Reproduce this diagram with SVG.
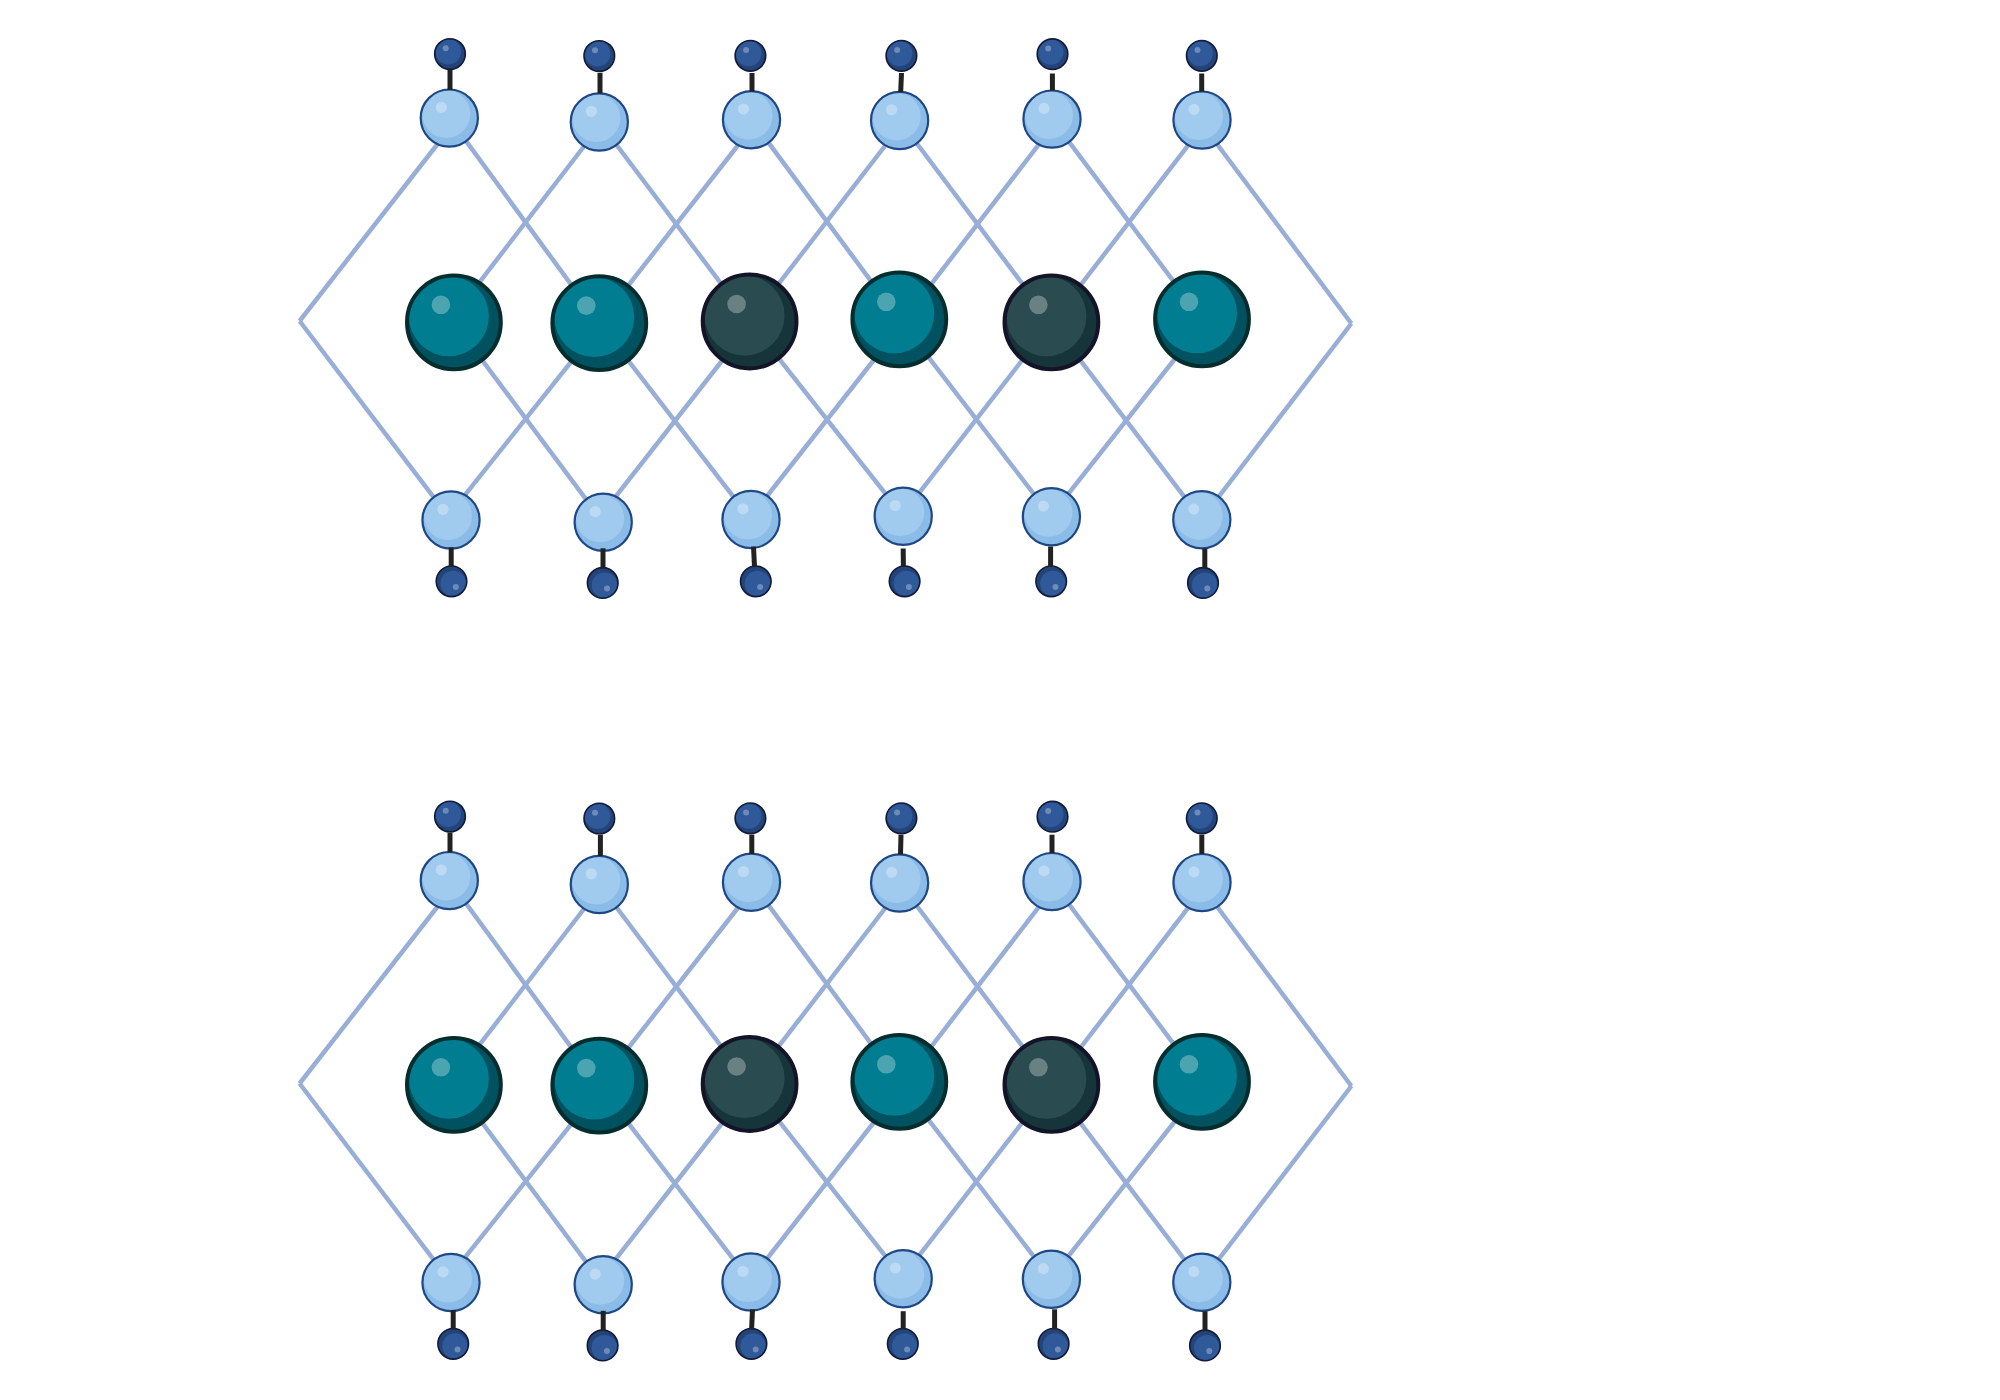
<svg xmlns="http://www.w3.org/2000/svg" width="2000" height="1400" viewBox="0 0 2000 1400">
<style>
.e{stroke:#98aed6;stroke-width:4.500;fill:none}
.b{stroke:#222;stroke-width:5;fill:none}
.tO{fill:#005260}.tI{fill:#007d90}.tS{fill:none;stroke:#062d2d;stroke-width:4}
.dO{fill:#16353a}.dI{fill:#2a4b50}.dS{fill:none;stroke:#141428;stroke-width:4}
.mO{fill:#8bbce8}.mI{fill:#a0caee}.mS{fill:none;stroke:#1f4784;stroke-width:2.200}
.sO{fill:#224478}.sI{fill:#30599a}.sS{fill:none;stroke:#121a38;stroke-width:1.600}
.h{fill:#fff;fill-opacity:.3}
</style>
<defs>
<g id="teal"><circle class="tO" r="46.900"/><circle class="tI" cx="-5" cy="-6" r="40"/><circle class="h" cx="-13" cy="-17.500" r="9.300"/><circle class="tS" r="46.900"/></g>
<g id="dark"><circle class="dO" r="46.900"/><circle class="dI" cx="-5" cy="-6" r="40"/><circle class="h" cx="-13" cy="-17.500" r="9.300"/><circle class="dS" r="46.900"/></g>
<g id="med"><circle class="mO" r="28.600"/><circle class="mI" cx="-3" cy="-4" r="24"/><circle class="h" cx="-8" cy="-10.700" r="5.600"/><circle class="mS" r="28.600"/></g>
<g id="smallU"><circle class="sO" r="15.300"/><circle class="sI" cx="-1.700" cy="-2.200" r="12.700"/><circle class="h" cx="-4.300" cy="-5.700" r="3"/><circle class="sS" r="15.300"/></g>
<g id="smallD"><circle class="sO" r="15.300"/><circle class="sI" cx="1.700" cy="2.200" r="12.700"/><circle class="h" cx="4.300" cy="5.700" r="3"/><circle class="sS" r="15.300"/></g>
</defs>
<g id="connectors-edges">
<g id="edges-1">
<line class="e" x1="299.600" y1="321" x2="449.300" y2="129"/>
<line class="e" x1="299.600" y1="321" x2="451" y2="520"/>
<line class="e" x1="449.300" y1="118.100" x2="599.300" y2="323.100"/>
<line class="e" x1="599.300" y1="126.500" x2="453.900" y2="315.500"/>
<line class="e" x1="599.300" y1="122" x2="749.600" y2="321.500"/>
<line class="e" x1="751.500" y1="128" x2="599.300" y2="322.500"/>
<line class="e" x1="751.500" y1="119.700" x2="899.300" y2="319.300"/>
<line class="e" x1="899.600" y1="127" x2="749.600" y2="321.500"/>
<line class="e" x1="899.600" y1="120.500" x2="1051.400" y2="322.300"/>
<line class="e" x1="1052" y1="127.400" x2="899.300" y2="325.600"/>
<line class="e" x1="1052" y1="119.100" x2="1202" y2="319.300"/>
<line class="e" x1="1202" y1="127.300" x2="1051.400" y2="323"/>
<line class="e" x1="1202" y1="124" x2="1351.400" y2="323.500"/>
<line class="e" x1="1351.400" y1="323.500" x2="1202" y2="518.500"/>
<line class="e" x1="453.900" y1="322.300" x2="603.200" y2="522.300"/>
<line class="e" x1="599.300" y1="326.500" x2="451" y2="512.500"/>
<line class="e" x1="599.300" y1="323.100" x2="751" y2="519.500"/>
<line class="e" x1="749.600" y1="325.500" x2="603.200" y2="512.500"/>
<line class="e" x1="749.600" y1="321.500" x2="903.200" y2="516.200"/>
<line class="e" x1="899.300" y1="327.500" x2="751" y2="516.500"/>
<line class="e" x1="899.300" y1="319.300" x2="1051.400" y2="516.800"/>
<line class="e" x1="1051.400" y1="322.500" x2="903.200" y2="513.500"/>
<line class="e" x1="1051.400" y1="322.300" x2="1201.800" y2="519.800"/>
<line class="e" x1="1202" y1="324.500" x2="1051.400" y2="515.200"/>
</g>
<g id="edges-2">
<line class="e" x1="299.600" y1="1083.500" x2="449.300" y2="891.500"/>
<line class="e" x1="299.600" y1="1083.500" x2="451" y2="1282.500"/>
<line class="e" x1="449.300" y1="880.600" x2="599.300" y2="1085.600"/>
<line class="e" x1="599.300" y1="889" x2="453.900" y2="1078"/>
<line class="e" x1="599.300" y1="884.500" x2="749.600" y2="1084"/>
<line class="e" x1="751.500" y1="890.500" x2="599.300" y2="1085"/>
<line class="e" x1="751.500" y1="882.200" x2="899.300" y2="1081.800"/>
<line class="e" x1="899.600" y1="889.500" x2="749.600" y2="1084"/>
<line class="e" x1="899.600" y1="883" x2="1051.400" y2="1084.800"/>
<line class="e" x1="1052" y1="889.900" x2="899.300" y2="1088.100"/>
<line class="e" x1="1052" y1="881.600" x2="1202" y2="1081.800"/>
<line class="e" x1="1202" y1="889.800" x2="1051.400" y2="1085.500"/>
<line class="e" x1="1202" y1="886.500" x2="1351.400" y2="1086"/>
<line class="e" x1="1351.400" y1="1086" x2="1202" y2="1281"/>
<line class="e" x1="453.900" y1="1084.800" x2="603.200" y2="1284.800"/>
<line class="e" x1="599.300" y1="1089" x2="451" y2="1275"/>
<line class="e" x1="599.300" y1="1085.600" x2="751" y2="1282"/>
<line class="e" x1="749.600" y1="1088" x2="603.200" y2="1275"/>
<line class="e" x1="749.600" y1="1084" x2="903.200" y2="1278.700"/>
<line class="e" x1="899.300" y1="1090" x2="751" y2="1279"/>
<line class="e" x1="899.300" y1="1081.800" x2="1051.400" y2="1279.300"/>
<line class="e" x1="1051.400" y1="1085" x2="903.200" y2="1276"/>
<line class="e" x1="1051.400" y1="1084.800" x2="1201.800" y2="1282.300"/>
<line class="e" x1="1202" y1="1087" x2="1051.400" y2="1277.700"/>
</g>
</g>
<g id="n1-ts1" transform="translate(450 54)"><use href="#smallU"/></g>
<g id="n1-ts2" transform="translate(599.300 56)"><use href="#smallU"/></g>
<g id="n1-ts3" transform="translate(750.400 55.800)"><use href="#smallU"/></g>
<g id="n1-ts4" transform="translate(901.400 55.800)"><use href="#smallU"/></g>
<g id="n1-ts5" transform="translate(1052.500 54.200)"><use href="#smallU"/></g>
<g id="n1-ts6" transform="translate(1201.800 55.800)"><use href="#smallU"/></g>
<g id="n1-tm1" transform="translate(449.300 118.100)"><use href="#med"/></g>
<g id="n1-tm2" transform="translate(599.300 122)"><use href="#med"/></g>
<g id="n1-tm3" transform="translate(751.500 119.700)"><use href="#med"/></g>
<g id="n1-tm4" transform="translate(899.600 120.500)"><use href="#med"/></g>
<g id="n1-tm5" transform="translate(1052 119.100)"><use href="#med"/></g>
<g id="n1-tm6" transform="translate(1202 120.100)"><use href="#med"/></g>
<g id="n1-g1" transform="translate(453.900 322.300)"><use href="#teal"/></g>
<g id="n1-g2" transform="translate(599.300 323.100)"><use href="#teal"/></g>
<g id="n1-g3" transform="translate(749.600 321.500)"><use href="#dark"/></g>
<g id="n1-g4" transform="translate(899.300 319.300)"><use href="#teal"/></g>
<g id="n1-g5" transform="translate(1051.400 322.300)"><use href="#dark"/></g>
<g id="n1-g6" transform="translate(1202 319.300)"><use href="#teal"/></g>
<g id="n1-bm1" transform="translate(451 520)"><use href="#med"/></g>
<g id="n1-bm2" transform="translate(603.200 522.300)"><use href="#med"/></g>
<g id="n1-bm3" transform="translate(751 519.500)"><use href="#med"/></g>
<g id="n1-bm4" transform="translate(903.200 516.200)"><use href="#med"/></g>
<g id="n1-bm5" transform="translate(1051.400 516.800)"><use href="#med"/></g>
<g id="n1-bm6" transform="translate(1201.800 519.800)"><use href="#med"/></g>
<g id="n1-bs1" transform="translate(451.500 581.300)"><use href="#smallD"/></g>
<g id="n1-bs2" transform="translate(602.700 582.900)"><use href="#smallD"/></g>
<g id="n1-bs3" transform="translate(755.800 581.300)"><use href="#smallD"/></g>
<g id="n1-bs4" transform="translate(904.600 581.300)"><use href="#smallD"/></g>
<g id="n1-bs5" transform="translate(1051.200 581.300)"><use href="#smallD"/></g>
<g id="n1-bs6" transform="translate(1203 582.900)"><use href="#smallD"/></g>
<g id="n2-ts1" transform="translate(450 816.500)"><use href="#smallU"/></g>
<g id="n2-ts2" transform="translate(599.300 818.500)"><use href="#smallU"/></g>
<g id="n2-ts3" transform="translate(750.400 818.300)"><use href="#smallU"/></g>
<g id="n2-ts4" transform="translate(901.400 818.300)"><use href="#smallU"/></g>
<g id="n2-ts5" transform="translate(1052.500 816.700)"><use href="#smallU"/></g>
<g id="n2-ts6" transform="translate(1201.800 818.300)"><use href="#smallU"/></g>
<g id="n2-tm1" transform="translate(449.300 880.600)"><use href="#med"/></g>
<g id="n2-tm2" transform="translate(599.300 884.500)"><use href="#med"/></g>
<g id="n2-tm3" transform="translate(751.500 882.200)"><use href="#med"/></g>
<g id="n2-tm4" transform="translate(899.600 883)"><use href="#med"/></g>
<g id="n2-tm5" transform="translate(1052 881.600)"><use href="#med"/></g>
<g id="n2-tm6" transform="translate(1202 882.600)"><use href="#med"/></g>
<g id="n2-g1" transform="translate(453.900 1084.800)"><use href="#teal"/></g>
<g id="n2-g2" transform="translate(599.300 1085.600)"><use href="#teal"/></g>
<g id="n2-g3" transform="translate(749.600 1084)"><use href="#dark"/></g>
<g id="n2-g4" transform="translate(899.300 1081.800)"><use href="#teal"/></g>
<g id="n2-g5" transform="translate(1051.400 1084.800)"><use href="#dark"/></g>
<g id="n2-g6" transform="translate(1202 1081.800)"><use href="#teal"/></g>
<g id="n2-bm1" transform="translate(451 1282.500)"><use href="#med"/></g>
<g id="n2-bm2" transform="translate(603.200 1284.800)"><use href="#med"/></g>
<g id="n2-bm3" transform="translate(751 1282)"><use href="#med"/></g>
<g id="n2-bm4" transform="translate(903.200 1278.700)"><use href="#med"/></g>
<g id="n2-bm5" transform="translate(1051.400 1279.300)"><use href="#med"/></g>
<g id="n2-bm6" transform="translate(1201.800 1282.300)"><use href="#med"/></g>
<g id="n2-bs1" transform="translate(453.200 1343.800)"><use href="#smallD"/></g>
<g id="n2-bs2" transform="translate(602.600 1345.400)"><use href="#smallD"/></g>
<g id="n2-bs3" transform="translate(751.400 1343.800)"><use href="#smallD"/></g>
<g id="n2-bs4" transform="translate(902.800 1343.800)"><use href="#smallD"/></g>
<g id="n2-bs5" transform="translate(1053.600 1343.800)"><use href="#smallD"/></g>
<g id="n2-bs6" transform="translate(1205 1345.400)"><use href="#smallD"/></g>
<g id="connectors-bonds">
<g id="bonds-1">
<line class="b" x1="450" y1="70" x2="450" y2="90"/>
<line class="b" x1="600" y1="72.700" x2="600" y2="93.500"/>
<line class="b" x1="752" y1="73" x2="752" y2="91.500"/>
<line class="b" x1="901.500" y1="73" x2="900.700" y2="92"/>
<line class="b" x1="1052.400" y1="73.500" x2="1052.400" y2="90.500"/>
<line class="b" x1="1201.700" y1="73.500" x2="1201.700" y2="91.500"/>
<line class="b" x1="451.200" y1="547.300" x2="451.200" y2="566.800"/>
<line class="b" x1="603" y1="548.300" x2="603" y2="568.400"/>
<line class="b" x1="753.500" y1="546.500" x2="754.500" y2="566.800"/>
<line class="b" x1="903.200" y1="548.500" x2="903.400" y2="566.800"/>
<line class="b" x1="1050.600" y1="546.500" x2="1050.600" y2="566.800"/>
<line class="b" x1="1204.800" y1="548.500" x2="1204.800" y2="568.400"/>
</g>
<g id="bonds-2">
<line class="b" x1="450" y1="832.400" x2="450" y2="852.500"/>
<line class="b" x1="600.400" y1="834.700" x2="600.400" y2="856"/>
<line class="b" x1="751.800" y1="834.700" x2="751.800" y2="854"/>
<line class="b" x1="901" y1="834.700" x2="900.500" y2="854.500"/>
<line class="b" x1="1052" y1="834.700" x2="1052" y2="853"/>
<line class="b" x1="1201.800" y1="834.700" x2="1201.800" y2="854"/>
<line class="b" x1="453.200" y1="1310" x2="453.200" y2="1329.300"/>
<line class="b" x1="603.200" y1="1310.800" x2="603.200" y2="1330.900"/>
<line class="b" x1="752.500" y1="1309.300" x2="751.600" y2="1329.300"/>
<line class="b" x1="903.200" y1="1311.200" x2="903.200" y2="1329.300"/>
<line class="b" x1="1054.600" y1="1309.300" x2="1054.600" y2="1329.300"/>
<line class="b" x1="1205" y1="1311.200" x2="1205" y2="1330.900"/>
</g>
</g>
</svg>
